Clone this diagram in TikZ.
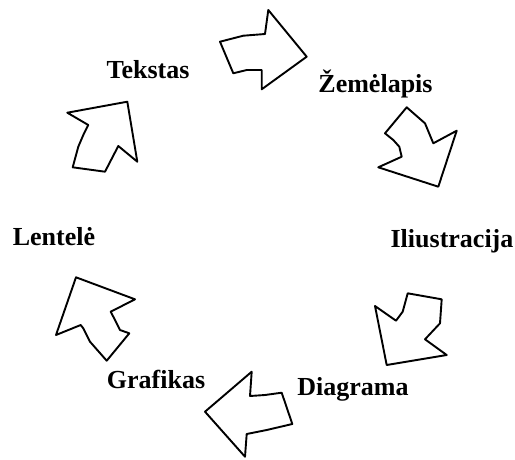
\documentclass[tikz,border=0pt]{standalone}
\usepackage{fontspec}
\setmainfont{Liberation Serif}
\begin{document}
\begin{tikzpicture}[x=1pt,y=-1pt,
  lbl/.style={font=\fontsize{26}{30}\selectfont\bfseries, anchor=base, inner sep=0pt},
  arr/.style={draw=black, line width=1.9pt, line join=round, fill=white}]
\useasboundingbox (0,0) rectangle (515,459);
% arrows
\draw[arr] (220,41.7) -- (243.3,35.7) -- (265,34) -- (268.3,10) -- (306.7,56.7) -- (261.7,89.3) -- (261.7,70) -- (246.7,70) -- (233.3,73.3) -- cycle;
\draw[arr] (406.7,107.3) -- (425,123.3) -- (433.3,143.3) -- (456.7,130.7) -- (438.3,186.7) -- (378.3,167.3) -- (401.7,156.7) -- (399.3,146.7) -- (393.3,140) -- (385,133.3) -- cycle;
\draw[arr] (407.7,293.3) -- (441.7,299.3) -- (440,323.3) -- (425,339.3) -- (446.7,355) -- (386.7,365) -- (375,306) -- (396,320.7) -- (402.7,311.7) -- cycle;
\draw[arr] (251.7,371.7) -- (250,396) -- (265,395) -- (281.7,392.7) -- (292.3,424) -- (266.7,430) -- (246.7,434) -- (245,456.7) -- (205,411.7) -- cycle;
\draw[arr] (76,277.3) -- (135,299.3) -- (110.7,311.7) -- (115,320) -- (120,330) -- (129.3,333.3) -- (106.7,360.7) -- (90,341.7) -- (83.3,328.3) -- (80.7,325) -- (56,335) -- cycle;
\draw[arr] (67.3,112.7) -- (127.3,101.7) -- (137.3,161.7) -- (118.3,146) -- (105,171.7) -- (72.7,167.3) -- (78.3,146.7) -- (83.3,135) -- (88.3,125) -- cycle;
% labels
\node[lbl] (tekstas) at (148,78) {Tekstas};
\node[lbl] (zemelapis) at (375.5,92.5) {Žemėlapis};
\node[lbl] (iliustracija) at (452,247) {Iliustracija};
\node[lbl] (diagrama) at (353,395) {Diagrama};
\node[lbl] (grafikas) at (156,388) {Grafikas};
\node[lbl] (lentele) at (54,245) {Lentelė};
\end{tikzpicture}
\end{document}
